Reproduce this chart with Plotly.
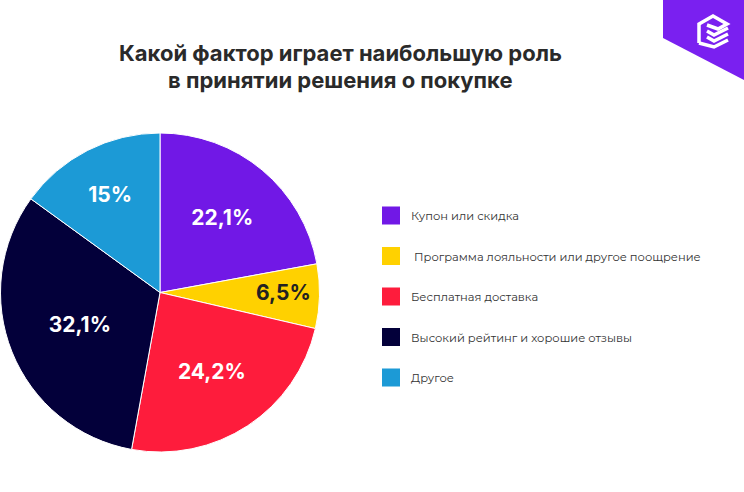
import plotly.graph_objects as go

categories = ["Купон или скидка", " Программа лояльности или другое поощрение",
              "Бесплатная доставка", "Высокий рейтинг и хорошие отзывы", "Другое"]
values = [22.1, 6.5, 24.2, 32.1, 15]
value_labels = ["22,1%", "6,5%", "24,2%", "32,1%", "15%"]
colors = ["#7118E6", "#FFD100", "#FE1C3C", "#03003A", "#1C9AD6"]
text_colors = ["#FFFFFF", "#222222", "#FFFFFF", "#FFFFFF", "#FFFFFF"]

W, H = 744, 492
fig = go.Figure()

fig.add_trace(go.Pie(
    labels=categories, values=values, text=value_labels,
    texttemplate="%{text}", textinfo="text",
    textposition="inside", insidetextorientation="horizontal",
    sort=False, direction="clockwise", rotation=0,
    marker=dict(colors=colors, line=dict(color="#FFFFFF", width=1)),
    textfont=dict(family="Inter", size=21, color=text_colors, weight="bold"),
    domain=dict(x=[0, 320 / W], y=[1 - 452 / H, 1 - 133 / H]),
    showlegend=False, hoverinfo="skip",
))

for i, (c, col) in enumerate(zip(categories, colors)):
    fig.add_trace(go.Scatter(
        x=[None], y=[None], mode="markers", name=c,
        legendgroup=str(i),
        marker=dict(symbol="square", size=16, color=col, line=dict(color=col, width=2)),
        showlegend=True, hoverinfo="skip",
    ))

fig.update_layout(
    width=W, height=H,
    margin=dict(l=0, r=0, t=0, b=0),
    paper_bgcolor="white", plot_bgcolor="white",
    xaxis=dict(visible=False, domain=[0.99, 1]),
    yaxis=dict(visible=False, domain=[0, 0.01]),
    legend=dict(
        x=371 / W, y=1 - 201 / H, xanchor="left", yanchor="top",
        font=dict(family="Montserrat, Inter, sans-serif", size=11.5, color="#333333"),
        tracegroupgap=21.5, traceorder="grouped", itemsizing="trace",
        bgcolor="rgba(0,0,0,0)",
    ),
    annotations=[
        dict(text="Какой фактор играет наибольшую роль", x=340 / W, y=1 - 53 / H,
             xref="paper", yref="paper", showarrow=False, xanchor="center", yanchor="middle",
             font=dict(family="Inter", size=22, color="#2A2A2A", weight="bold")),
        dict(text="в принятии решения о покупке", x=340 / W, y=1 - 80 / H,
             xref="paper", yref="paper", showarrow=False, xanchor="center", yanchor="middle",
             font=dict(family="Inter", size=22, color="#2A2A2A", weight="bold")),
    ],
    shapes=[
        dict(type="path", xref="paper", yref="paper", layer="above",
             path=f"M {663/W},1 L 1,1 L 1,{1-80/H} L {663/W},{1-38/H} Z",
             fillcolor="#7A20F0", line=dict(width=0)),
    ],
)

# logo icon (white stacked chevrons)
icon_lines = [
    [(699, 43), (699, 24), (713, 16), (727, 24), (718, 29), (707, 25)],
    [(707, 31), (714, 35), (728, 28)],
    [(707, 37), (714, 41), (728, 34)],
    [(699, 43), (714, 47), (728, 40)],
]
for pts in icon_lines:
    d = "M " + " L ".join(f"{x/W},{1-y/H}" for x, y in pts)
    fig.add_shape(type="path", xref="paper", yref="paper", path=d,
                  line=dict(color="white", width=3.5), layer="above")

fig.write_html("out.html", config={"displayModeBar": False},
               post_script="document.body.style.margin='0px';")
